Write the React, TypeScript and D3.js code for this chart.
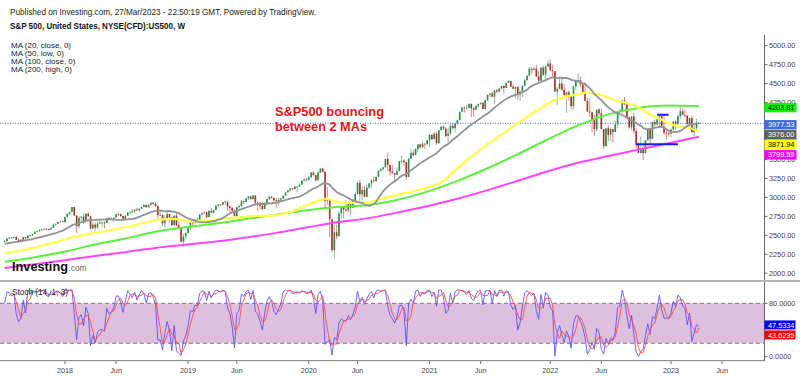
import React from "react";
import * as d3 from "d3";

// ---------- DATA (weekly, S&P 500 CFD) ----------
const startWeek = "2017-07-03";
// history before the first visible bar (needed for MA20 / MA50 / Stoch)
const preCloses = [2367,2383,2373,2378,2344,2363,2355,2329,2349,2384,2399,2391,2382,2416,2439,2432,2433,2438,2423];
const preHighs = [2378,2362,2361,2398,2400,2403,2406,2418,2440,2447,2441,2441,2450];
const preLows = [2155,2148,2175,2168,2160,2164,2127,2120,2140,2145,2142,2115,2129,2126,2084,2129,2156,2183,2187,2191,2254,2254,2233,2245,2254,2254,2264,2267,2285,2311,2352,2355,2362,2364,2335,2322,2344,2328,2323,2349,2380,2387,2353,2381,2407,2415,2415,2427,2406];

const closes = [
  2425,2459,2472,2472,2476,2441,2425,2443,2477,2461,2500,2502,2519,2549,2553,2575,2581,2588,2582,2579,2602,2642,2652,2676,2684,2674,
  2743,2786,2810,2873,2762,2620,2732,2747,2691,2786,2752,2588,2641,2604,2656,2670,2670,2663,2728,2713,2721,2735,2779,2780,2755,2718,2760,2801,2802,2819,2840,2833,2850,2875,2902,2872,2905,2930,2914,2886,2767,2768,2659,2723,2781,2736,2633,2760,2633,2600,2417,2486,
  2532,2596,2671,2665,2707,2708,2776,2793,2804,2743,2822,2800,2834,2893,2907,2905,2940,2946,2881,2860,2826,2752,2873,2887,2950,2942,2990,3014,2977,3026,2932,2919,2889,2847,2926,2979,3007,2992,2962,2952,2970,2986,3023,3067,3093,3120,3110,3141,3146,3169,3221,3240,
  3235,3265,3330,3295,3226,3328,3380,3338,2954,2972,2711,2305,2541,2489,2790,2875,2837,2831,2930,2864,2955,3044,3194,3041,3098,3009,3130,3185,3225,3216,3271,3351,3373,3397,3508,3427,3341,3319,3298,3348,3477,3484,3465,3270,3510,3585,3558,3638,3699,3663,3709,3703,3756,
  3825,3768,3841,3714,3887,3934,3907,3811,3842,3943,3913,3975,4020,4129,4185,4180,4181,4233,4174,4156,4204,4230,4247,4166,4281,4352,4370,4327,4412,4395,4437,4468,4442,4509,4535,4459,4433,4455,4357,4391,4471,4545,4605,4697,4683,4698,4595,4538,4712,4620,4726,4766,
  4677,4663,4398,4432,4501,4419,4349,4385,4329,4204,4463,4543,4546,4488,4392,4272,4132,4123,4024,3901,4158,4109,3901,3675,3912,3825,3899,3863,3962,4130,4145,4280,4228,4058,3924,4067,3873,3693,3586,3640,3583,3753,3901,3771,3993,3965,4026,4072,3934,3852,3845,3840,
  3895,3999,3973,4071,4136,4090,4079,3970,4046,3862,3917,3971,3977.53,
];
const highs = [
  2433,2463,2478,2484,2480,2490,2468,2451,2480,2473,2500,2508,2520,2552,2558,2576,2582,2588,2597,2591,2605,2657,2656,2679,2695,2692,
  2743,2787,2811,2873,2873,2763,2755,2748,2789,2786,2802,2761,2675,2672,2680,2717,2683,2682,2732,2742,2739,2736,2779,2801,2790,2755,2763,2804,2816,2848,2841,2864,2856,2876,2916,2903,2907,2940,2940,2939,2889,2817,2778,2767,2816,2782,2746,2760,2800,2685,2607,2520,
  2538,2598,2675,2682,2709,2738,2776,2795,2813,2817,2831,2860,2838,2894,2911,2917,2940,2954,2932,2892,2873,2841,2876,2905,2964,2950,2996,3014,3018,3028,3028,2945,2943,2939,2940,2985,3021,3022,2999,2993,2993,3000,3027,3067,3098,3120,3127,3154,3147,3182,3226,3248,
  3259,3282,3330,3337,3296,3347,3385,3393,3340,3136,2985,2715,2637,2641,2819,2880,2870,2965,2934,2945,2981,3068,3211,3233,3155,3154,3165,3185,3238,3280,3272,3352,3387,3399,3509,3588,3430,3428,3320,3397,3482,3550,3502,3466,3521,3646,3628,3645,3700,3712,3727,3711,3760,
  3827,3826,3861,3870,3887,3934,3950,3928,3915,3960,3983,3975,4020,4130,4192,4194,4218,4238,4237,4188,4218,4234,4250,4257,4287,4356,4372,4394,4415,4429,4440,4468,4480,4513,4545,4536,4492,4465,4466,4418,4475,4560,4608,4719,4714,4717,4743,4672,4713,4731,4741,4808,
  4818,4749,4664,4453,4595,4590,4490,4385,4416,4340,4466,4546,4637,4593,4490,4513,4308,4307,4131,4090,4158,4178,4168,3905,3913,3950,3918,3907,4013,4140,4167,4281,4325,4230,4062,4076,4119,3906,3733,3807,3685,3762,3906,3917,4001,4029,4034,4101,4075,4101,3906,3878,
  3906,4003,4015,4094,4195,4176,4156,4080,4049,4079,3964,4039,3992,
];
const lows = [
  2407,2418,2455,2460,2462,2437,2421,2417,2428,2446,2459,2496,2488,2517,2544,2551,2556,2566,2576,2566,2576,2598,2624,2651,2676,2673,
  2673,2737,2768,2808,2759,2533,2593,2675,2647,2659,2743,2585,2586,2553,2586,2649,2612,2594,2658,2701,2707,2675,2735,2754,2743,2692,2698,2756,2790,2802,2796,2825,2802,2848,2872,2864,2868,2888,2903,2874,2710,2755,2628,2603,2722,2670,2631,2631,2621,2583,2409,2346,
  2444,2525,2570,2612,2631,2682,2682,2764,2775,2722,2735,2800,2785,2830,2873,2891,2898,2900,2825,2801,2805,2750,2729,2861,2873,2912,2940,2966,2975,2972,2914,2822,2840,2834,2845,2891,2964,2985,2945,2855,2892,2953,2982,3023,3067,3079,3091,3108,3070,3134,3166,3220,
  3211,3214,3263,3281,3214,3223,3326,3328,2855,2901,2478,2280,2192,2447,2485,2722,2727,2816,2797,2767,2860,2950,3039,2936,2966,3003,3001,3115,3127,3200,3209,3266,3344,3354,3393,3349,3293,3313,3209,3290,3343,3441,3419,3233,3268,3506,3543,3555,3594,3645,3647,3636,3683,
  3663,3759,3766,3694,3712,3884,3885,3789,3724,3817,3895,3853,3955,4013,4128,4118,4174,4180,4057,4062,4156,4188,4220,4164,4166,4271,4320,4321,4233,4372,4385,4424,4368,4442,4506,4457,4429,4306,4288,4278,4323,4465,4545,4595,4630,4672,4585,4495,4532,4600,4531,4720,
  4662,4582,4395,4222,4431,4401,4327,4115,4280,4157,4161,4424,4506,4450,4381,4267,4124,4062,3859,3810,3875,4074,3900,3637,3670,3739,3743,3722,3860,3911,4080,4112,4218,4057,3907,3886,3838,3647,3584,3580,3492,3590,3752,3698,3764,3906,3945,3937,3919,3828,3764,3800,
  3794,3877,3885,3949,4031,4079,4060,3943,3928,3847,3808,3888,3965,
];

// MA(100, close) and MA(200, high) (quarterly)
const maDates = ["2017-07-03","2017-10-02","2018-01-01","2018-04-02","2018-07-02","2018-10-01","2018-12-31","2019-04-01","2019-07-01","2019-09-30","2019-12-30","2020-03-30","2020-06-29","2020-09-28","2020-12-28","2021-03-29","2021-06-28","2021-09-27","2021-12-27","2022-03-28","2022-06-27","2022-09-26","2022-12-26","2023-03-27"];
const ma100Values = [2153,2213,2286,2380,2459,2548,2607,2655,2715,2773,2830,2875,2897,2966,3077,3219,3385,3570,3767,3949,4095,4180,4212,4203.81];
const ma200Values = [2071,2120,2173,2229,2279,2335,2376,2418,2473,2533,2603,2672,2724,2800,2884,2982,3096,3219,3345,3457,3545,3630,3715,3799.59];

// last values shown in the price tags
const priceTags = [4203.81, 3977.53, 3976.0, 3871.94, 3799.59];
const stochTags = [47.5334, 43.6235];

// drawn support/resistance segments
const segLevels = [4090, 3700];
const segStarts = ["2022-11-21", "2022-09-19"];
const segEnds = ["2022-12-26", "2023-01-23"];

// 4000 and 3750 are fully covered by the price tags in the reference
const priceTicks = [2000, 2250, 2500, 2750, 3000, 3250, 3500, 4250, 4500, 4750, 5000];
const stochTicks = [0, 80];
const xTickDates = ["2018-01-01","2018-06-04","2019-01-07","2019-06-03","2020-01-06","2020-06-01","2021-01-04","2021-06-07","2022-01-03","2022-06-06","2023-01-02","2023-06-05"];
const xTickLabels = ["2018","Jun","2019","Jun","2020","Jun","2021","Jun","2022","Jun","2023","Jun"];

const maLegend = ["MA (20, close, 0)", "MA (50, low, 0)", "MA (100, close, 0)", "MA (200, high, 0)"];

// ---------- DRAWING ----------
const FONT = "'Liberation Sans', Arial, Helvetica, sans-serif";
const parse = d3.timeParse("%Y-%m-%d");
const AXIS_X = 764.5;

export default function App() {
  const x = d3.scaleTime().domain([parse("2018-01-01")!, parse("2023-01-02")!]).range([65, 671]);
  const y = d3.scaleLinear().domain([2000, 5000]).range([273.3, 45.7]);
  const ys = d3.scaleLinear().domain([0, 100]).range([356.6, 290]);

  const start = parse(startWeek)!;
  const dates = closes.map((_, i) => d3.timeDay.offset(start, 7 * i));
  const opens = closes.map((_, i) => (i === 0 ? preCloses[preCloses.length - 1] : closes[i - 1]));

  const allC = preCloses.concat(closes);
  const ma20 = closes.map((_, i) => d3.mean(allC.slice(i, i + 20)) as number);
  const allL = preLows.concat(lows);
  const ma50 = closes.map((_, i) => d3.mean(allL.slice(i, i + 50)) as number);

  const hS = preHighs.concat(highs);
  const lS = preLows.slice(-13).concat(lows);
  const K = closes.map((c, i) => {
    const hh = d3.max(hS.slice(i, i + 14)) as number;
    const ll = d3.min(lS.slice(i, i + 14)) as number;
    return (100 * (c - ll)) / (hh - ll);
  });
  const D = K.map((_, i) => (i < 2 ? null : (K[i] + K[i - 1] + K[i - 2]) / 3));

  const lineIdx = d3.line<number>().x((_, i) => x(dates[i])).y((v) => y(v));
  const maPts = maDates.map((d) => parse(d)!);
  const lineSample = (vals: number[]) =>
    d3.line<number>().x((_, i) => x(maPts[i])).y((v) => y(v)).curve(d3.curveMonotoneX)(vals) || "";
  const stochLine = d3
    .line<number | null>()
    .defined((v) => v !== null)
    .x((_, i) => x(dates[i]))
    .y((v) => ys(v as number));

  const bw = 1.6;
  const upCol = "#2a8a4a";
  const dnCol = "#b02d2a";

  const tagCols = [
    { bg: "#00ff00", fg: "#000" },
    { bg: "#4169e1", fg: "#fff" },
    { bg: "#5f5f5f", fg: "#fff" },
    { bg: "#ffff00", fg: "#000" },
    { bg: "#ff00ff", fg: "#fff" },
  ];
  let prev = -1e9;
  const tagY = priceTags.map((v) => {
    let c = y(v) + 1.5;
    if (c < prev + 10) c = prev + 10;
    prev = c;
    return c;
  });
  prev = -1e9;
  const sTagCols = [
    { bg: "#0000ff", fg: "#fff" },
    { bg: "#ff0000", fg: "#fff" },
  ];
  const sTagY = stochTags.map((v) => {
    let c = ys(v);
    if (c < prev + 10) c = prev + 10;
    prev = c;
    return c;
  });

  return (
    <svg
      width={800}
      height={376}
      style={{ position: "absolute", left: 0, top: 0, background: "#fff", fontFamily: FONT }}
    >
      <defs>
        <clipPath id="mainClip">
          <rect x={0} y={35} width={AXIS_X} height={245} />
        </clipPath>
        <clipPath id="stClip">
          <rect x={0} y={283} width={AXIS_X} height={77} />
        </clipPath>
      </defs>
      <rect x={0} y={0} width={800} height={376} fill="#fff" />

      {/* header */}
      <text x={10} y={14.8} fontSize={8.6} fill="#222" textLength={306} lengthAdjust="spacingAndGlyphs">
        Published on Investing.com, 27/Mar/2023 - 22:50:19 GMT, Powered by TradingView.
      </text>
      <text x={10} y={28.8} fontSize={8.6} fontWeight="bold" fill="#111" textLength={175} lengthAdjust="spacingAndGlyphs">
        S&amp;P 500, United States, NYSE(CFD):US500, W
      </text>
      {maLegend.map((t, i) => (
        <text key={t} x={11} y={48 + i * 8} fontSize={8} fill="#222">
          {t}
        </text>
      ))}

      {/* main panel */}
      <g clipPath="url(#mainClip)">
        <line x1={0} x2={AXIS_X} y1={y(priceTags[1])} y2={y(priceTags[1])} stroke="#4169e1" strokeDasharray="1,1.5" strokeWidth={1} />
        {closes.map((c, i) => {
          const o = opens[i];
          const cx = x(dates[i]);
          const col = c >= o ? upCol : dnCol;
          const top = y(Math.max(o, c));
          const bot = y(Math.min(o, c));
          return (
            <g key={i}>
              <line x1={cx} x2={cx} y1={y(highs[i])} y2={y(lows[i])} stroke={col} strokeOpacity={0.55} strokeWidth={1} />
              <rect x={cx - bw / 2} y={top} width={bw} height={Math.max(0.8, bot - top)} fill={col} />
            </g>
          );
        })}
        <path d={lineSample(ma200Values)} fill="none" stroke="#ff44ff" strokeWidth={2} />
        <path d={lineSample(ma100Values)} fill="none" stroke="#5cf03c" strokeWidth={2} />
        <path d={lineIdx(ma50) || ""} fill="none" stroke="#ffff50" strokeWidth={2.3} />
        <path d={lineIdx(ma20) || ""} fill="none" stroke="#939393" strokeWidth={1.8} />
        {segLevels.map((lv, i) => (
          <line key={i} x1={x(parse(segStarts[i])!)} x2={x(parse(segEnds[i])!)} y1={y(lv)} y2={y(lv)} stroke="#1a1aff" strokeWidth={2} />
        ))}
      </g>

      {/* annotation */}
      <text x={275} y={115.8} fontSize={13} fontWeight="bold" fill="#e8141c" textLength={109} lengthAdjust="spacingAndGlyphs">
        S&amp;P500 bouncing
      </text>
      <text x={275} y={131} fontSize={13} fontWeight="bold" fill="#e8141c" textLength={92} lengthAdjust="spacingAndGlyphs">
        between 2 MAs
      </text>

      {/* logo */}
      <text x={12} y={270.8} fontSize={12} fontWeight="bold" fill="#111" textLength={56} lengthAdjust="spacingAndGlyphs">
        Investing
      </text>
      <text x={68.5} y={270.8} fontSize={9.5} fill="#666" textLength={18} lengthAdjust="spacingAndGlyphs">
        .com
      </text>

      {/* right axis main */}
      <line x1={AXIS_X} x2={AXIS_X} y1={35} y2={280} stroke="#666" />
      {priceTicks.map((t) => (
        <g key={t}>
          <line x1={AXIS_X} x2={AXIS_X + 3} y1={y(t)} y2={y(t)} stroke="#666" />
          <text x={769} y={y(t) + 2.6} fontSize={7.3} fill="#444">
            {t.toFixed(2)}
          </text>
        </g>
      ))}
      {priceTags.map((v, i) => (
        <g key={i}>
          <rect x={AXIS_X} y={tagY[i] - 4.7} width={32} height={9.4} fill={tagCols[i].bg} />
          <text x={768} y={tagY[i] + 2.6} fontSize={7.3} fill={tagCols[i].fg}>
            {v.toFixed(2)}
          </text>
        </g>
      ))}

      {/* separator */}
      <rect x={0} y={280} width={800} height={2} fill="#b4b4b4" />

      {/* stoch panel */}
      <rect x={0} y={ys(80)} width={AXIS_X} height={ys(20) - ys(80)} fill="#dec0de" />
      <line x1={0} x2={AXIS_X} y1={ys(80)} y2={ys(80)} stroke="#8a708a" strokeDasharray="4,3" />
      <line x1={0} x2={AXIS_X} y1={ys(20)} y2={ys(20)} stroke="#8a708a" strokeDasharray="4,3" />
      <g clipPath="url(#stClip)">
        <path d={stochLine(K) || ""} fill="none" stroke="#5050ff" strokeOpacity={0.85} strokeWidth={1} />
        <path d={stochLine(D) || ""} fill="none" stroke="#ff4a4a" strokeOpacity={0.9} strokeWidth={1} />
      </g>
      <text x={12} y={294.6} fontSize={8.2} fill="#222">
        Stoch (14, 1, 3)
      </text>
      <line x1={AXIS_X} x2={AXIS_X} y1={282} y2={361} stroke="#666" />
      <line x1={0} x2={AXIS_X} y1={360.7} y2={360.7} stroke="#777" />
      {stochTicks.map((t) => (
        <g key={t}>
          <line x1={AXIS_X} x2={AXIS_X + 3} y1={ys(t)} y2={ys(t)} stroke="#666" />
          <text x={769} y={ys(t) + 2.6} fontSize={7.3} fill="#444">
            {t.toFixed(4)}
          </text>
        </g>
      ))}
      {stochTags.map((v, i) => (
        <g key={i}>
          <rect x={AXIS_X} y={sTagY[i] - 4.5} width={31} height={9} fill={sTagCols[i].bg} />
          <text x={768} y={sTagY[i] + 2.6} fontSize={7.3} fill={sTagCols[i].fg}>
            {v.toFixed(4)}
          </text>
        </g>
      ))}

      {/* x axis */}
      {xTickDates.map((d, i) => {
        const px = x(parse(d)!);
        return (
          <g key={d}>
            <line x1={px} x2={px} y1={361} y2={364} stroke="#777" />
            <text x={px} y={372.5} fontSize={7.3} fill="#444" textAnchor="middle">
              {xTickLabels[i]}
            </text>
          </g>
        );
      })}
    </svg>
  );
}
